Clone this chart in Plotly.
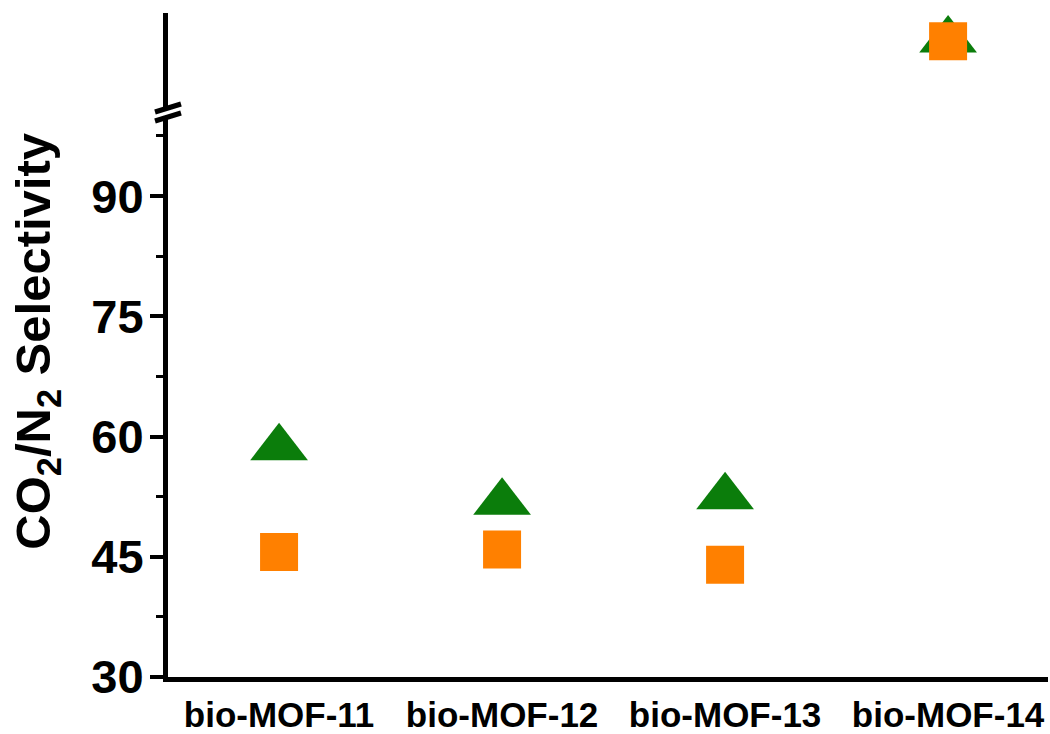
import plotly.graph_objects as go

# Materials and CO2/N2 selectivity values
materials = ["bio-MOF-11", "bio-MOF-12", "bio-MOF-13", "bio-MOF-14"]
triangle_sel = [58.6, 51.8, 52.5, 259.0]
square_sel = [45.6, 45.9, 44.0, 258.0]

y_ticks = [30, 45, 60, 75, 90]
lower_range = [30, 100]   # lower segment of the broken axis
upper_range = [200, 280]  # upper segment above the break
break_value = 100

GREEN = "#0B7D0B"
ORANGE = "#FF8000"
FONT = "Liberation Sans, Arial, sans-serif"

# Figure pixel geometry
W, H = 1050, 734
ML, MR, MT, MB = 168, 2, 13, 57
PW, PH = W - ML - MR, H - MT - MB
lower_top = 0.845  # fraction of plot height used by the lower segment

x_idx = list(range(len(materials)))


def split(vals):
    lo = [(i, v) for i, v in zip(x_idx, vals) if v <= break_value]
    hi = [(i, v) for i, v in zip(x_idx, vals) if v > break_value]
    return lo, hi


fig = go.Figure()
for vals, sym, col, size in [(triangle_sel, "triangle-up", GREEN, 50),
                             (square_sel, "square", ORANGE, 38)]:
    lo, hi = split(vals)
    for pts, ax in [(lo, "y"), (hi, "y2")]:
        if not pts:
            continue
        fig.add_trace(go.Scatter(
            x=[p[0] for p in pts], y=[p[1] for p in pts], yaxis=ax,
            mode="markers", cliponaxis=False, showlegend=False,
            marker=dict(symbol=sym, size=size, color=col, line=dict(width=0)),
        ))

fig.update_layout(
    width=W, height=H,
    margin=dict(l=ML, r=MR, t=MT, b=MB),
    paper_bgcolor="white", plot_bgcolor="white",
    font=dict(family=FONT, color="black"),
    xaxis=dict(
        range=[-0.498, 3.448], tickvals=x_idx, ticktext=materials,
        showgrid=False, zeroline=False, showline=True, linecolor="black",
        linewidth=5, ticks="", ticklabelstandoff=3, automargin=False,
        tickfont=dict(size=35, family=FONT, weight="bold", color="black"),
    ),
    yaxis=dict(
        domain=[0, lower_top], range=lower_range, tickvals=y_ticks,
        showgrid=False, zeroline=False, showline=True, linecolor="black",
        linewidth=5, ticks="outside", ticklen=13, tickwidth=4,
        tickcolor="black", ticklabelstandoff=-3, automargin=False,
        tickfont=dict(size=47, family=FONT, weight="bold", color="black"),
        minor=dict(dtick=7.5, tick0=30, ticks="outside", ticklen=7,
                   tickwidth=3, tickcolor="black", showgrid=False),
    ),
    yaxis2=dict(
        domain=[lower_top, 1], range=upper_range, anchor="x",
        showgrid=False, zeroline=False, showline=True, linecolor="black",
        linewidth=5, ticks="", showticklabels=False, automargin=False,
    ),
)

# Axis title
fig.add_annotation(
    text="CO<sub>2</sub>/N<sub>2</sub> Selectivity",
    xref="paper", yref="paper", x=0, y=0.505,
    xanchor="center", yanchor="middle", xshift=-131,
    textangle=-90, showarrow=False,
    font=dict(size=49, family=FONT, weight="bold", color="black"),
)


# Axis break marks (two slashes across the y axis)
def px(x, y):
    return (x - ML) / PW, (H - MB - y) / PH


bx0, bx1 = 155, 181
slashes = [(112, 104), (121, 113)]
gx0, gy0 = px(bx0, 116.5)
gx1, gy1 = px(bx1, 108.5)
fig.add_shape(type="line", xref="paper", yref="paper",
              x0=gx0, y0=gy0, x1=gx1, y1=gy1,
              line=dict(color="white", width=5))
for ya, yb in slashes:
    x0, y0 = px(bx0, ya)
    x1, y1 = px(bx1, yb)
    fig.add_shape(type="line", xref="paper", yref="paper",
                  x0=x0, y0=y0, x1=x1, y1=y1,
                  line=dict(color="black", width=5))

fig.write_html("out.html")
